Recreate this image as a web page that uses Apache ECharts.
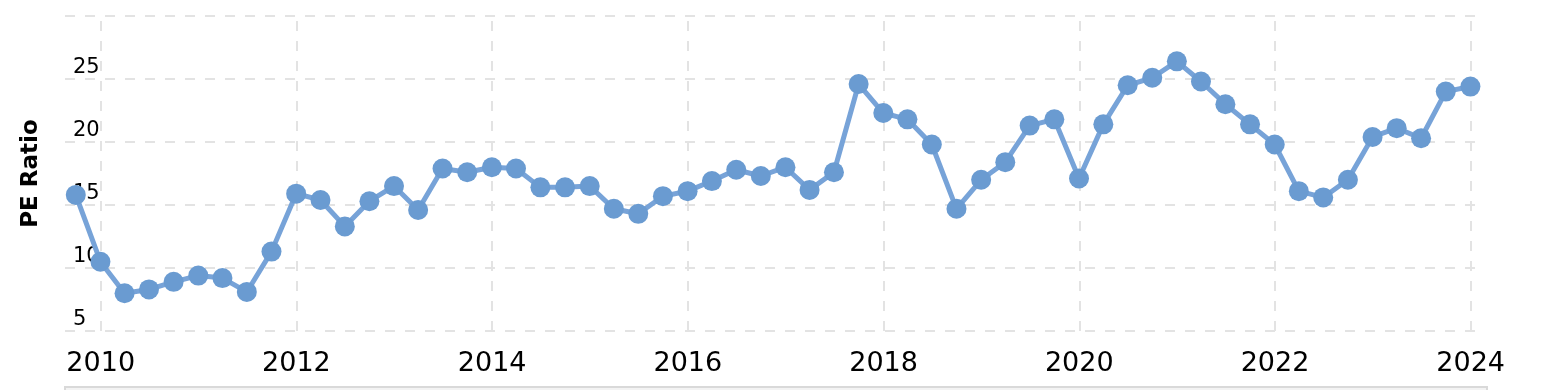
<!DOCTYPE html>
<html>
<head>
<meta charset="utf-8">
<script src="https://cdn.jsdelivr.net/npm/echarts@6/dist/echarts.min.js"></script>
<style>
html,body{margin:0;padding:0;background:#fff;}
#chart{width:1546px;height:390px;}
</style>
</head>
<body>
<div id="chart"></div>
<script>
// Quarter-end dates (categories)
var dates = [
  '2009-09-30','2009-12-31',
  '2010-03-31','2010-06-30','2010-09-30','2010-12-31',
  '2011-03-31','2011-06-30','2011-09-30','2011-12-31',
  '2012-03-31','2012-06-30','2012-09-30','2012-12-31',
  '2013-03-31','2013-06-30','2013-09-30','2013-12-31',
  '2014-03-31','2014-06-30','2014-09-30','2014-12-31',
  '2015-03-31','2015-06-30','2015-09-30','2015-12-31',
  '2016-03-31','2016-06-30','2016-09-30','2016-12-31',
  '2017-03-31','2017-06-30','2017-09-30','2017-12-31',
  '2018-03-31','2018-06-30','2018-09-30','2018-12-31',
  '2019-03-31','2019-06-30','2019-09-30','2019-12-31',
  '2020-03-31','2020-06-30','2020-09-30','2020-12-31',
  '2021-03-31','2021-06-30','2021-09-30','2021-12-31',
  '2022-03-31','2022-06-30','2022-09-30','2022-12-31',
  '2023-03-31','2023-06-30','2023-09-30','2023-12-31'
];
// PE ratio values
var peRatio = [
  15.8, 10.5,
  8.0, 8.3, 8.9, 9.4,
  9.2, 8.1, 11.3, 15.9,
  15.4, 13.3, 15.3, 16.5,
  14.6, 17.9, 17.6, 18.0,
  17.9, 16.4, 16.4, 16.5,
  14.7, 14.3, 15.7, 16.1,
  16.9, 17.8, 17.3, 18.0,
  16.2, 17.6, 24.6, 22.3,
  21.8, 19.8, 14.7, 17.0,
  18.4, 21.3, 21.8, 17.1,
  21.4, 24.5, 25.1, 26.4,
  24.8, 23.0, 21.4, 19.8,
  16.1, 15.6, 17.0, 20.4,
  21.1, 20.3, 24.0, 24.4
];
// Axis tick labels
var yTicks = [5, 10, 15, 20, 25, 30];
var yLabelShown = [5, 10, 15, 20, 25];
var yAxisTitle = 'PE Ratio';

function decimalYear(s) {
  var p = s.split('-');
  var y = +p[0], m = +p[1] - 1, d = +p[2];
  var start = Date.UTC(y, 0, 1), end = Date.UTC(y + 1, 0, 1);
  return y + (Date.UTC(y, m, d) - start) / (end - start);
}
var seriesData = dates.map(function (d, i) { return [decimalYear(d), peRatio[i]]; });

var chart = echarts.init(document.getElementById('chart'), null, {renderer: 'canvas'});
var font = 'DejaVu Sans, Verdana, sans-serif';
chart.setOption({
  animation: false,
  backgroundColor: '#ffffff',
  grid: {left: 65, right: 71, top: 16, bottom: 59, containLabel: false},
  xAxis: {
    type: 'value',
    min: 2009.635,
    max: 2024.044,
    splitNumber: 7,
    axisLine: {show: false},
    axisTick: {show: false},
    axisLabel: {
      show: true,
      margin: 19,
      fontSize: 27,
      fontFamily: font,
      color: '#000',
      showMinLabel: false,
      showMaxLabel: false,
      formatter: function (v) { return (Math.abs(v - Math.round(v)) < 1e-6) ? String(Math.round(v)) : ''; }
    },
    splitLine: {
      show: true,
      showMinLine: false,
      showMaxLine: false,
      lineStyle: {color: '#e3e3e3', width: 2, type: [10, 10], dashOffset: 15}
    }
  },
  yAxis: {
    type: 'value',
    min: yTicks[0],
    max: yTicks[yTicks.length - 1],
    interval: 5,
    name: yAxisTitle,
    nameLocation: 'middle',
    nameGap: 22,
    nameTextStyle: {fontSize: 23, fontWeight: 'bold', fontFamily: font, color: '#000'},
    axisLine: {show: false},
    axisTick: {show: false},
    axisLabel: {
      inside: true,
      margin: 8,
      align: 'left',
      verticalAlign: 'bottom',
      padding: [0, 0, 1, 0],
      fontSize: 21,
      fontFamily: font,
      color: '#000',
      formatter: function (v) { return yLabelShown.indexOf(v) >= 0 ? String(v) : ''; }
    },
    splitLine: {
      show: true,
      showMinLine: true,
      showMaxLine: true,
      lineStyle: {color: '#e3e3e3', width: 2, type: [10, 10], dashOffset: 0}
    }
  },
  graphic: [{
    type: 'rect',
    left: 64, top: 386,
    shape: {width: 1422, height: 20},
    style: {fill: '#f3f3f3', stroke: '#d9d9d9', lineWidth: 2},
    silent: true
  }],
  series: [{
    type: 'line',
    data: seriesData,
    symbol: 'circle',
    symbolSize: 20,
    showAllSymbol: true,
    clip: false,
    lineStyle: {color: '#77a3d8', width: 5},
    itemStyle: {color: '#6a9bd1', borderWidth: 0}
  }]
});
</script>
</body>
</html>
